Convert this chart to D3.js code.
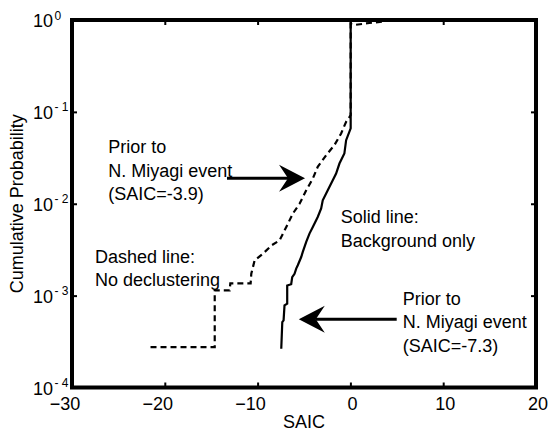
<!DOCTYPE html>
<html><head><meta charset="utf-8">
<script src="https://cdn.jsdelivr.net/npm/d3@7"></script>
<style>
body{margin:0;background:#fff}
text{font-family:"Liberation Sans",Arial,Helvetica,sans-serif;fill:#000}
</style>
</head><body><svg id="c" width="548" height="431"></svg>
<script>
// ---- data ----
const xTicks = [-30, -20, -10, 0, 10, 20];
const yTicks = [1e0, 1e-1, 1e-2, 1e-3, 1e-4];
const yTickExp = ["0", "- 1", "- 2", "- 3", "- 4"];

// Solid line: background only
const solidX = [-7.45, -7.34, -7.20, -7.10, -6.81, -6.81, -6.38, -6.27, -6.02, -5.84, -5.67, -5.30, -5.13, -4.76, -4.41, -4.05, -3.52, -3.15, -2.98, -2.44, -1.90, -1.54, -1.18, -0.65, -0.46, 0.03, 0.03];
const solidP = [2.64e-4, 5.15e-4, 5.37e-4, 7.83e-4, 8.17e-4, 1.29e-3, 1.33e-3, 1.59e-3, 1.73e-3, 1.97e-3, 2.14e-3, 2.63e-3, 2.99e-3, 3.84e-3, 4.73e-3, 5.58e-3, 7.18e-3, 8.87e-3, 1.09e-2, 1.40e-2, 1.80e-2, 2.13e-2, 2.74e-2, 3.52e-2, 4.92e-2, 6.61e-2, 0.97];

// Dashed line: no declustering
const dashedX = [-21.54, -14.62, -14.62, -13.01, -12.94, -10.75, -10.68, -10.32, -9.43, -8.49, -7.63, -6.91, -6.20, -5.48, -4.76, -4.05, -3.52, -2.61, -1.72, -1.00, -0.46, -0.11, 0.03, 0.03, 0.43, 2.04, 3.66];
const dashedP = [2.75e-4, 2.75e-4, 1.14e-3, 1.14e-3, 1.36e-3, 1.36e-3, 1.73e-3, 2.42e-3, 2.86e-3, 3.53e-3, 4.00e-3, 5.58e-3, 7.82e-3, 1.00e-2, 1.40e-2, 1.88e-2, 2.52e-2, 3.38e-2, 4.35e-2, 5.82e-2, 7.80e-2, 8.77e-2, 9.23e-2, 0.904, 0.883, 0.927, 0.964];

// annotations (data coordinates)
const noteLines = [
  ["Prior to", "N. Miyagi event", "(SAIC=-3.9)"],
  ["Solid line:", "Background only"],
  ["Dashed line:", "No declustering"],
  ["Prior to", "N. Miyagi event", "(SAIC=-7.3)"]
];
const noteX = [-26.09, -1.03, -27.52, 5.64];
const noteP = [3.54e-2, 6.12e-3, 2.29e-3, 7.91e-4];

const arrowFromX = [-13.30, 4.99];
const arrowToX = [-4.89, -5.56];
const arrowP = [1.89e-2, 5.52e-4];

const xLabel = "SAIC";
const yLabel = "Cumulative Probability";

// ---- drawing ----
const L = 72, R = 536, T = 20, B = 387.5;
const svg = d3.select("#c");
const x = d3.scaleLinear().domain([-30, 20]).range([L, R]);
const y = d3.scaleLog().domain([1e-4, 1]).range([B, T]);
const FS = 18;

// axes (inward ticks)
const gB = svg.append("g").attr("transform", `translate(0,${B})`)
  .call(d3.axisBottom(x).tickValues(xTicks).tickSize(-5).tickPadding(10).tickFormat(d3.format("d")));
gB.selectAll("text").attr("font-size", FS)
  .attr("dx", d => d < 0 ? -7.5 : 1.5);
svg.append("g").attr("transform", `translate(0,${T})`)
  .call(d3.axisTop(x).tickValues(xTicks).tickSize(-5).tickFormat(""));
const gL = svg.append("g").attr("transform", `translate(${L},0)`)
  .call(d3.axisLeft(y).tickValues(yTicks).tickSize(-5).tickFormat(""));
svg.append("g").attr("transform", `translate(${R},0)`)
  .call(d3.axisRight(y).tickValues(yTicks).tickSize(-5).tickFormat(""));
svg.selectAll(".domain").remove();
svg.selectAll(".tick line").attr("stroke", "#000").attr("stroke-width", 2);

gL.selectAll(".tick").each(function(d, i) {
  const t = d3.select(this);
  t.append("text").attr("x", -19).attr("y", 6.5).attr("text-anchor", "end")
    .attr("font-size", FS).attr("fill", "#000").text("10");
  t.append("text").attr("x", -17.5).attr("y", -1).attr("text-anchor", "start")
    .attr("font-size", 12).attr("fill", "#000").style("white-space", "pre")
    .attr("xml:space", "preserve").text(yTickExp[i]);
});

// frame
svg.append("path")
  .attr("d", `M${L},${T}H${R}V${B}H${L}Z`)
  .attr("fill", "none").attr("stroke", "#000").attr("stroke-width", 4)
  .attr("stroke-linejoin", "miter");

// lines
const line = d3.line().x(d => x(d[0])).y(d => y(d[1]));
svg.append("path").datum(d3.zip(dashedX, dashedP)).attr("d", line)
  .attr("fill", "none").attr("stroke", "#000").attr("stroke-width", 2.2)
  .attr("stroke-dasharray", "6,4");
svg.append("path").datum(d3.zip(solidX, solidP)).attr("d", line)
  .attr("fill", "none").attr("stroke", "#000").attr("stroke-width", 2.2);

// notes
noteLines.forEach((lines, i) => {
  const t = svg.append("text").attr("x", x(noteX[i])).attr("y", y(noteP[i])).attr("font-size", FS);
  lines.forEach((s, j) => {
    t.append("tspan").attr("x", x(noteX[i])).attr("dy", j === 0 ? 0 : 23.5).text(s);
  });
});

// arrows
arrowFromX.forEach((fx, i) => {
  const x0 = x(fx), x1 = x(arrowToX[i]), yy = y(arrowP[i]);
  const dir = Math.sign(x1 - x0);
  const len = 26, half = 13.5, notch = 17;
  svg.append("line").attr("x1", x0).attr("y1", yy).attr("x2", x1 - dir * notch).attr("y2", yy)
    .attr("stroke", "#000").attr("stroke-width", 3);
  const pts = [[x1, yy], [x1 - dir * len, yy - half], [x1 - dir * notch, yy], [x1 - dir * len, yy + half]];
  svg.append("path").attr("d", "M" + pts.map(p => p.join(",")).join("L") + "Z").attr("fill", "#000");
});

// axis titles
svg.append("text").attr("x", (L + R) / 2).attr("y", 428).attr("text-anchor", "middle")
  .attr("font-size", FS).text(xLabel);
svg.append("text").attr("transform", `translate(23,${(T + B) / 2}) rotate(-90)`)
  .attr("text-anchor", "middle").attr("font-size", FS).text(yLabel);
</script>
</body></html>
